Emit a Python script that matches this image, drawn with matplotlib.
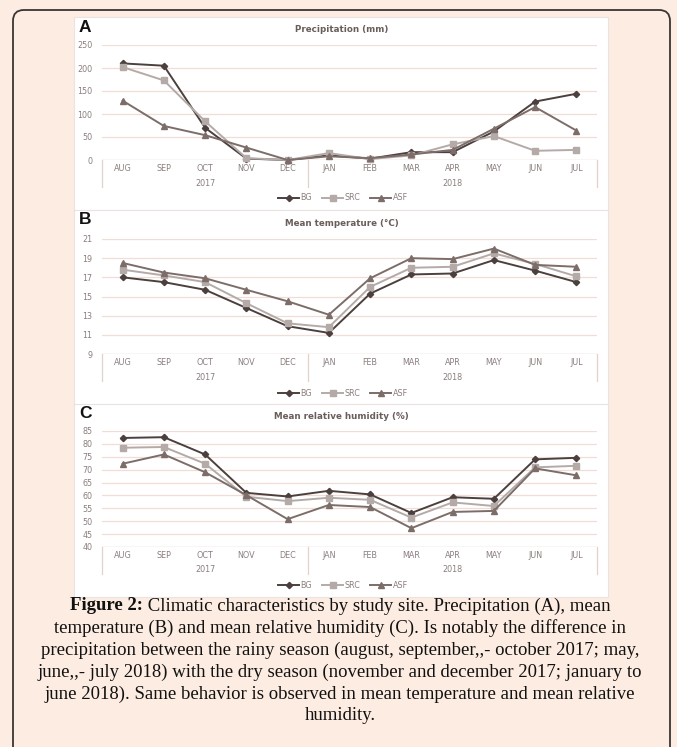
import matplotlib
matplotlib.use("Agg")
import matplotlib.pyplot as plt
from matplotlib.patches import FancyBboxPatch, Rectangle
from matplotlib.lines import Line2D
from matplotlib.transforms import blended_transform_factory

# ---------------- data ----------------
months = ["AUG", "SEP", "OCT", "NOV", "DEC", "JAN", "FEB", "MAR", "APR", "MAY", "JUN", "JUL"]
years = ["2017", "2018"]
year_spans = [(0, 4), (5, 11)]
series_names = ["BG", "SRC", "ASF"]

precip_bg = [210, 205, 70, 3, 0, 10, 3, 17, 17, 62, 127, 144]
precip_src = [202, 173, 84, 4, 0, 15, 2, 10, 34, 52, 20, 22]
precip_asf = [129, 74, 54, 27, 0, 8, 4, 12, 22, 68, 115, 64]

temp_bg = [17.0, 16.5, 15.7, 13.8, 11.9, 11.2, 15.3, 17.3, 17.4, 18.8, 17.7, 16.5]
temp_src = [17.8, 17.2, 16.5, 14.3, 12.2, 11.8, 16.0, 18.0, 18.1, 19.5, 18.4, 17.1]
temp_asf = [18.5, 17.5, 16.9, 15.7, 14.5, 13.1, 16.9, 19.0, 18.9, 20.0, 18.3, 18.1]

hum_bg = [82.3, 82.6, 75.9, 61.0, 59.6, 61.8, 60.4, 53.2, 59.3, 58.7, 74.0, 74.6]
hum_src = [78.5, 78.8, 72.3, 59.5, 57.8, 59.1, 58.3, 51.4, 57.3, 55.9, 70.9, 71.5]
hum_asf = [72.3, 75.9, 69.0, 60.1, 50.8, 56.3, 55.5, 47.3, 53.6, 54.0, 70.5, 67.8]

panels = [
    dict(letter="A", title="Precipitation (mm)", data=[precip_bg, precip_src, precip_asf],
         ylim=(0, 250), step=50),
    dict(letter="B", title="Mean temperature (°C)", data=[temp_bg, temp_src, temp_asf],
         ylim=(9, 21), step=2),
    dict(letter="C", title="Mean relative humidity (%)", data=[hum_bg, hum_src, hum_asf],
         ylim=(40, 85), step=5),
]

caption_bold = "Figure 2:"
caption_lines = [
    " Climatic characteristics by study site. Precipitation (A), mean",
    "temperature (B) and mean relative humidity (C). Is notably the difference in",
    "precipitation between the rainy season (august, september,,- october 2017; may,",
    "june,,- july 2018) with the dry season (november and december 2017; january to",
    "june 2018). Same behavior is observed in mean temperature and mean relative",
    "humidity.",
]

# ---------------- styles ----------------
W, H = 677, 747
colors = ["#4b403d", "#b4aba8", "#7c6d69"]
markers = ["D", "s", "^"]
msizes = [3.2, 5.0, 5.0]
bg_color = "#fdece1"
grid_color = "#f0ddd6"
axis_color = "#e2d2cc"
tick_color = "#8a7f7c"
title_color = "#6a5e5b"

fig = plt.figure(figsize=(W / 100, H / 100), dpi=100)
fig.patch.set_facecolor(bg_color)

def fx(px):
    return px / W

def fy(py):
    return 1 - py / H

# outer rounded frame
frame = FancyBboxPatch((fx(13), fy(770)), fx(670 - 13), (770 - 10) / H,
                       boxstyle="round,pad=0,rounding_size=0.016",
                       transform=fig.transFigure, facecolor=bg_color,
                       edgecolor="#3a3535", linewidth=1.3, zorder=0,
                       mutation_aspect=W / H)
fig.patches.append(frame)
# white chart panel
fig.patches.append(Rectangle((fx(74), fy(597)), fx(608 - 74), (597 - 17) / H,
                             transform=fig.transFigure, facecolor="white",
                             edgecolor="#eae3e0", linewidth=0.8, zorder=1))
for sep in (210, 404):
    fig.add_artist(Line2D([fx(74), fx(608)], [fy(sep), fy(sep)], color="#e9e2df",
                          linewidth=0.8, transform=fig.transFigure, zorder=2))

ax_left, ax_right = 102, 597
layout = [  # (top px, bottom px, title y, letter y, legend y)
    (45, 160, 30, 27, 198),
    (239, 354, 223, 220, 393),
    (431, 547, 417, 413, 585),
]

for p, (top, bot, ty, ly, legy) in zip(panels, layout):
    ax = fig.add_axes([fx(ax_left), fy(bot), fx(ax_right - ax_left), (bot - top) / H])
    ax.set_facecolor("none")
    ax.set_zorder(3)
    x = list(range(len(months)))
    handles = []
    for vals, name, c, m, ms in zip(p["data"], series_names, colors, markers, msizes):
        h, = ax.plot(x, vals, color=c, marker=m, markersize=ms, linewidth=1.4,
                     markeredgecolor=c, markerfacecolor=c, label=name, zorder=4,
                     clip_on=False)
        handles.append(h)
    lo, hi = p["ylim"]
    ax.set_ylim(lo, hi)
    ax.set_xlim(-0.5, len(months) - 0.5)
    yt = list(range(lo, hi + 1, p["step"]))
    ax.set_yticks(yt)
    ax.set_yticklabels([str(v) for v in yt])
    ax.grid(axis="y", color=grid_color, linewidth=0.9, zorder=0)
    for s in ax.spines.values():
        s.set_visible(False)
    ax.tick_params(axis="y", length=0, pad=7, labelsize=5.8, labelcolor=tick_color)
    ax.set_xticks(x)
    ax.set_xticklabels(months)
    ax.tick_params(axis="x", length=0, pad=3.2, labelsize=5.8, labelcolor=tick_color)
    ax.axhline(lo, color=axis_color, linewidth=0.9, zorder=1)

    trans = blended_transform_factory(ax.transData, ax.transAxes)
    h_px = bot - top
    drop = 27 / h_px
    for xv in (-0.5, 4.5, len(months) - 0.5):
        ax.plot([xv, xv], [0, -drop], transform=trans, color=axis_color,
                linewidth=0.9, clip_on=False, zorder=1)
    for yr, (a, b) in zip(years, year_spans):
        ax.text((a + b) / 2, -(23 / h_px), yr, transform=trans,
                ha="center", va="center", fontsize=5.8, color=tick_color)

    fig.text(fx((ax_left + ax_right) / 2 - 8), fy(ty), p["title"], ha="center",
             va="center", fontsize=6.3, fontweight="bold", color=title_color)
    fig.text(fx(79), fy(ly), p["letter"], ha="left", va="center", fontsize=12.5,
             fontweight="bold", color="#111111", family="Liberation Sans")
    fig.legend(handles=handles, loc="center", bbox_to_anchor=(fx(343), fy(legy)),
               ncol=3, frameon=False, fontsize=5.8, labelcolor=tick_color,
               handlelength=2.6, handletextpad=0.2, columnspacing=1.2,
               borderaxespad=0)

# ---------------- caption ----------------
cap_fs = 13.5
cap_family = "Liberation Serif"
line_ys = [606, 628, 650, 672, 694, 716]
renderer = fig.canvas.get_renderer()
cx = 340
tb = fig.text(0, 0, caption_bold, fontsize=cap_fs, family=cap_family,
              fontweight="bold", color="#111111", va="center")
tr = fig.text(0, 0, caption_lines[0], fontsize=cap_fs, family=cap_family,
              color="#111111", va="center")
wb = tb.get_window_extent(renderer).width
wr = tr.get_window_extent(renderer).width
start = cx - (wb + wr) / 2
tb.set_position((fx(start), fy(line_ys[0])))
tr.set_position((fx(start + wb), fy(line_ys[0])))
for txt, yy in zip(caption_lines[1:], line_ys[1:]):
    fig.text(fx(cx), fy(yy), txt, ha="center", va="center", fontsize=cap_fs,
             family=cap_family, color="#111111")

fig.savefig("out.png", dpi=100, facecolor=bg_color)
